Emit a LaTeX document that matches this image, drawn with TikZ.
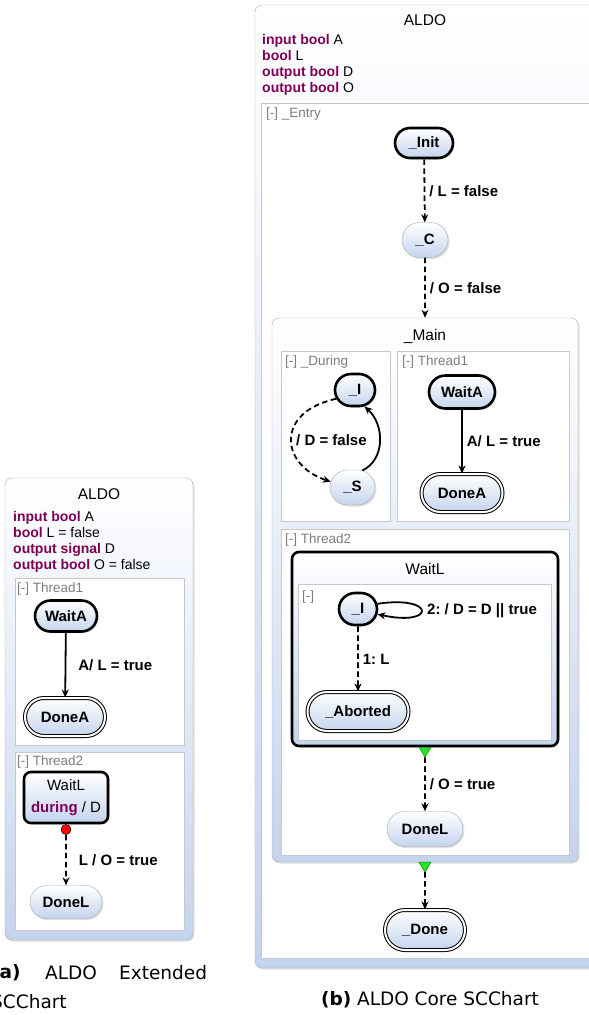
\documentclass[tikz,border=0pt]{standalone}
\usepackage{fontspec}
\setmainfont{Liberation Sans}
\newfontfamily\capfont{DejaVu Sans}
\usetikzlibrary{arrows.meta,shapes.misc,shadows}
\frenchspacing

\definecolor{stateblue}{RGB}{196,212,238}
\definecolor{kwpurple}{RGB}{127,0,85}
\definecolor{regiongray}{RGB}{200,200,200}
\definecolor{labelgray}{RGB}{125,125,125}
\definecolor{bordergray}{RGB}{170,170,170}
\definecolor{triggergreen}{RGB}{40,225,40}

\newcommand{\kw}[1]{\textcolor{kwpurple}{\textbf{#1}}}

\tikzset{
  softshadow/.style={drop shadow={opacity=0.25, shadow xshift=1.5pt, shadow yshift=-1.5pt}},
  superstate/.style={draw=bordergray, rounded corners=7pt, top color=white,
    bottom color=stateblue, softshadow, inner sep=0},
  region/.style={draw=regiongray, fill=white, inner sep=0},
  simple/.style={rounded rectangle, draw=bordergray, top color=white,
    bottom color=stateblue, softshadow, inner sep=0,
    font=\bfseries\fontsize{15}{18}\selectfont},
  initial/.style={simple, draw=black, line width=2.6pt},
  final/.style={simple, draw=black, line width=1pt, double=white, double distance=2pt},
  macrostate/.style={draw=black, line width=2.6pt, rounded corners=7pt, top color=white,
    bottom color=stateblue, softshadow, inner sep=0},
  trans/.style={line width=1.8pt, -{Stealth[length=8pt,width=7pt]}},
  immediate/.style={trans, dash pattern=on 5.5pt off 3.5pt},
  tlabel/.style={font=\bfseries\fontsize{15}{18}\selectfont, inner sep=0},
  rlabel/.style={text=labelgray, font=\fontsize{13.5}{16}\selectfont, anchor=west, inner sep=0},
  ttl/.style={font=\fontsize{15.5}{18}\selectfont, inner sep=0},
  decl/.style={font=\fontsize{14}{16}\selectfont, align=left, anchor=north west, inner sep=0},
  trigger/.style={fill=triggergreen, draw=triggergreen!60!black, line width=0.5pt},
  capt/.style={font=\capfont\fontsize{18.5}{22}\selectfont, inner sep=0}
}

\begin{document}
\begin{tikzpicture}[x=1pt, y=-1pt]
\useasboundingbox (0,0) rectangle (589,1015);

% (a) extended
\node[superstate, minimum width=188pt, minimum height=462pt] (aldoA) at (99,709) {};
\node[ttl] (aldoAttl) at (99,494) {ALDO};
\node[decl] (declA) at (13,511) {\kw{input bool} A\\\kw{bool} L = false\\\kw{output signal} D\\\kw{output bool} O = false};

\node[region, minimum width=169pt, minimum height=167pt] (thrA1) at (99.5,661.5) {};
\node[rlabel] at (17,589) {[-] Thread1};
\node[initial, minimum width=62pt, minimum height=31pt] (waitAa) at (66,616) {WaitA};
\node[final, minimum width=80pt, minimum height=38pt] (doneAa) at (65,717) {DoneA};

\node[region, minimum width=169pt, minimum height=178pt] (thrA2) at (99.5,841) {};
\node[rlabel] at (17,762) {[-] Thread2};
\node[macrostate, minimum width=84pt, minimum height=51pt, align=center,
  font=\fontsize{15}{22}\selectfont] (waitLa) at (66,797.5) {WaitL\\\kw{during} / D};
\node[circle, fill=red, draw=black, line width=0.5pt, minimum size=10pt, inner sep=0,
  anchor=north] (abortA) at (waitLa.south) {};
\node[simple, minimum width=72pt, minimum height=33pt] (doneLa) at (66,902) {DoneL};

\draw[trans] (waitAa) -- node[tlabel, right=12pt] {A/ L = true} (doneAa);
\draw[immediate] (abortA) -- node[tlabel, right=12pt] {L / O = true} (doneLa);

\node[capt, anchor=west] at (-9,973) {\textbf{(a)}};
\node[capt, anchor=west] at (45,973) {ALDO};
\node[capt, anchor=west] at (119,973) {Extended};
\node[capt, anchor=west] at (-9,1002) {SCChart};

% (b) core
\node[superstate, minimum width=341pt, minimum height=963pt] (aldoB) at (425.5,486.5) {};
\node[ttl] (aldoBttl) at (425,20) {ALDO};
\node[decl] (declB) at (262,34) {\kw{input bool} A\\\kw{bool} L\\\kw{output bool} D\\\kw{output bool} O};

\node[region, minimum width=329pt, minimum height=855pt] (entry) at (425.5,530.5) {};
\node[rlabel] at (266,114) {[-] \_Entry};
\node[initial, minimum width=58pt, minimum height=30pt] (init) at (424,143) {\_Init};
\node[simple, minimum width=46pt, minimum height=35pt] (cstate) at (425,240) {\_C};

\node[superstate, minimum width=306pt, minimum height=544pt] (main) at (425,590) {};
\node[ttl] (mainttl) at (425,336) {\_Main};

\node[region, minimum width=109pt, minimum height=170pt] (during) at (335.5,436) {};
\node[rlabel] at (285,362) {[-] \_During};
\node[initial, minimum width=40pt, minimum height=32pt] (dI) at (355,390) {\_I};
\node[simple, minimum width=45pt, minimum height=35pt] (dS) at (352.5,487.5) {\_S};

\node[region, minimum width=172pt, minimum height=170pt] (thrB1) at (483,436) {};
\node[rlabel] at (402,362) {[-] Thread1};
\node[initial, minimum width=66pt, minimum height=33pt] (waitAb) at (462,392) {WaitA};
\node[final, minimum width=81pt, minimum height=38pt] (doneAb) at (462,493) {DoneA};

\node[region, minimum width=288pt, minimum height=326pt] (thrB2) at (425,692) {};
\node[rlabel] at (285,540) {[-] Thread2};
\node[macrostate, minimum width=266pt, minimum height=194pt] (waitLb) at (425,649) {};
\node[ttl] (waitLttl) at (425,569) {WaitL};
\node[region, minimum width=253pt, minimum height=156pt] (inner) at (424.5,662) {};
\node[rlabel] at (302,597) {[-]};
\node[initial, minimum width=38pt, minimum height=32pt] (wI) at (358,609) {\_I};
\node[final, minimum width=101pt, minimum height=39pt] (aborted) at (358,711.5) {\_Aborted};
\node[simple, minimum width=76pt, minimum height=35pt] (doneLb) at (425,829) {DoneL};

\node[final, minimum width=80pt, minimum height=40pt] (done) at (425,930) {\_Done};

\draw[immediate] (init) -- node[tlabel, right=4pt] {/ L = false} (cstate);
\draw[immediate] (cstate) -- node[tlabel, right=4pt] {/ O = false} (main);

\draw[immediate] (dI.205) .. controls (275,412) and (280,465) .. (dS.165);
\node[tlabel, anchor=west] at (296,440) {/ D = false};
\draw[trans] (dS.60) .. controls (385,460) and (385,425) .. (dI.-60);

\draw[trans] (waitAb) -- node[tlabel, right=4pt] {A/ L = true} (doneAb);

\draw[trans] (wI.15) .. controls (436,595) and (436,627) .. (wI.-15);
\node[tlabel, anchor=west] at (427,611) {2: / D = D || true};
\draw[immediate] (wI) -- node[tlabel, right=4pt] {1: L} (aborted);

\filldraw[trigger] ([xshift=-6pt]waitLb.south) -- ([xshift=6pt]waitLb.south)
  -- ([yshift=-10pt]waitLb.south) -- cycle;
\coordinate (wlexit) at ([yshift=-10pt]waitLb.south);
\draw[immediate] (wlexit) -- node[tlabel, right=4pt] {/ O = true} (doneLb);

\filldraw[trigger] ([xshift=-6pt]main.south) -- ([xshift=6pt]main.south)
  -- ([yshift=-10pt]main.south) -- cycle;
\coordinate (mainexit) at ([yshift=-10pt]main.south);
\draw[immediate] (mainexit) -- (done);

\node[capt] at (430,1000) {\textbf{(b)} ALDO Core SCChart};
\end{tikzpicture}
\end{document}
